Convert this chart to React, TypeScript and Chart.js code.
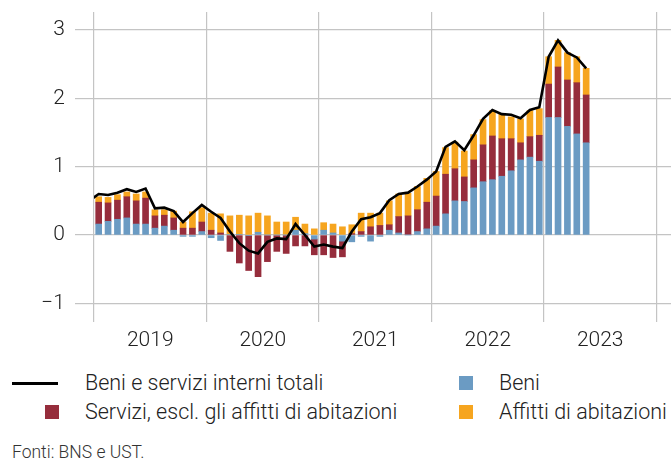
import React, { useEffect, useRef } from 'react';
import { Chart, registerables } from 'chart.js';

Chart.register(...registerables);

// Monthly data, Jan 2019 .. May 2023 (percentage points)
const yearLabels = ['2019', '2020', '2021', '2022', '2023'];
const firstYear = 2019;

const beni = [
  0.16, 0.20, 0.23, 0.25, 0.16, 0.16, 0.10, 0.13, 0.07, -0.02, -0.02, 0.05,
  -0.04, -0.08, 0.01, 0.01, -0.01, 0.04, 0.00, 0.00, 0.00, 0.07, 0.02, -0.06,
  0.07, 0.03, -0.09, -0.10, -0.02, -0.09, -0.02, 0.07, 0.03, 0.00, 0.05, 0.09,
  0.13, 0.31, 0.50, 0.49, 0.69, 0.78, 0.81, 0.86, 0.94, 1.10, 1.14, 1.08,
  1.72, 1.72, 1.59, 1.48, 1.35,
];

const servizi = [
  0.32, 0.27, 0.28, 0.31, 0.34, 0.38, 0.18, 0.16, 0.18, 0.10, 0.10, 0.14,
  0.07, 0.03, -0.24, -0.41, -0.51, -0.61, -0.39, -0.24, -0.27, -0.16, -0.16, -0.23,
  -0.29, -0.33, -0.23, 0.02, 0.05, 0.12, 0.14, 0.08, 0.24, 0.28, 0.32, 0.39,
  0.44, 0.58, 0.47, 0.36, 0.41, 0.54, 0.64, 0.55, 0.47, 0.25, 0.30, 0.38,
  0.49, 0.74, 0.68, 0.75, 0.70,
];

const affitti = [
  0.08, 0.08, 0.08, 0.07, 0.10, 0.09, 0.09, 0.08, 0.10, 0.09, 0.24, 0.21,
  0.25, 0.28, 0.27, 0.28, 0.28, 0.28, 0.28, 0.19, 0.19, 0.19, 0.14, 0.09,
  0.11, 0.13, 0.12, 0.13, 0.27, 0.20, 0.18, 0.35, 0.33, 0.33, 0.34, 0.35,
  0.36, 0.39, 0.39, 0.38, 0.37, 0.37, 0.37, 0.36, 0.32, 0.35, 0.38, 0.39,
  0.40, 0.39, 0.40, 0.38, 0.39,
];

// Total line starts one month earlier (Dec 2018)
const totale = [
  0.50,
  0.60, 0.585, 0.62, 0.67, 0.63, 0.68, 0.39, 0.40, 0.35, 0.19, 0.32, 0.44,
  0.34, 0.25, 0.05, -0.12, -0.23, -0.27, -0.10, -0.05, -0.06, 0.16, 0.00, -0.17,
  -0.14, -0.17, -0.19, 0.05, 0.23, 0.26, 0.32, 0.51, 0.60, 0.62, 0.71, 0.81,
  0.93, 1.29, 1.37, 1.24, 1.46, 1.70, 1.83, 1.77, 1.76, 1.71, 1.83, 1.87,
  2.61, 2.85, 2.67, 2.60, 2.44,
];
const totaleOffset = -1;

const yTicks = [-1, 0, 1, 2, 3];
const yMin = -1.274;
const yMax = 3.265;
const xMaxMonths = 61.55;

const COLORS = {
  beni: '#6b9bc3',
  servizi: '#962d3c',
  affitti: '#f6a51f',
  line: '#000000',
  grid: '#c4c4c4',
  text: '#222222',
};

const FONT = 'Roboto, "Liberation Sans", Arial, sans-serif';

export default function App() {
  const ref = useRef<HTMLCanvasElement | null>(null);

  useEffect(() => {
    if (!ref.current) return;
    const toPts = (arr: number[], off: number) => arr.map((v, i) => ({ x: i + off + 0.5, y: v }));
    const xTickValues: number[] = [];
    yearLabels.forEach((_, i) => {
      xTickValues.push(i * 12, i * 12 + 6);
    });
    xTickValues.push(yearLabels.length * 12);

    const chart = new Chart(ref.current, {
      type: 'bar',
      data: {
        datasets: [
          {
            type: 'line',
            label: 'Beni e servizi interni totali',
            data: toPts(totale, totaleOffset),
            borderColor: COLORS.line,
            borderWidth: 2.6,
            pointRadius: 0,
            tension: 0,
            stack: 'totale',
            order: 0,
          } as any,
          {
            label: 'Beni',
            data: toPts(beni, 0),
            backgroundColor: COLORS.beni,
            barThickness: 6,
            order: 1,
          },
          {
            label: 'Servizi, escl. gli affitti di abitazioni',
            data: toPts(servizi, 0),
            backgroundColor: COLORS.servizi,
            barThickness: 6,
            order: 1,
          },
          {
            label: 'Affitti di abitazioni',
            data: toPts(affitti, 0),
            backgroundColor: COLORS.affitti,
            barThickness: 6,
            order: 1,
          },
        ],
      },
      options: {
        animation: false,
        responsive: true,
        maintainAspectRatio: false,
        layout: { padding: { top: 12, right: 0, left: 0, bottom: 0 } },
        plugins: {
          legend: { display: false },
          tooltip: { enabled: false },
        },
        scales: {
          x: {
            type: 'linear',
            min: 0,
            max: xMaxMonths,
            stacked: true,
            offset: false,
            afterBuildTicks: (axis: any) => {
              axis.ticks = xTickValues.map((v) => ({ value: v }));
            },
            afterFit: (axis: any) => {
              axis.height = 38;
              axis.paddingLeft = 0;
              axis.paddingRight = 0;
            },
            grid: {
              drawTicks: false,
              offset: false,
              lineWidth: 1.2,
              color: (ctx: any) =>
                ctx.tick && ctx.tick.value % 12 === 0 ? COLORS.grid : 'rgba(0,0,0,0)',
            },
            border: { display: false },
            ticks: {
              autoSkip: false,
              maxRotation: 0,
              padding: 6,
              color: COLORS.text,
              font: { family: FONT, size: 21, weight: '300' as any },
              callback: (value: any) => {
                const v = Number(value);
                if (v % 12 === 6) return String(firstYear + (v - 6) / 12);
                return '';
              },
            },
          },
          y: {
            min: yMin,
            max: yMax,
            stacked: true,
            afterBuildTicks: (axis: any) => {
              axis.ticks = yTicks.map((v) => ({ value: v }));
            },
            afterFit: (axis: any) => {
              axis.width = 94;
              axis.paddingTop = 0;
              axis.paddingBottom = 0;
            },
            grid: {
              color: COLORS.grid,
              lineWidth: 1.2,
              tickLength: 19,
            },
            border: { display: false },
            ticks: {
              padding: 10,
              color: COLORS.text,
              font: { family: FONT, size: 21, weight: '300' as any },
              callback: (value: any) => {
                const v = Number(value);
                return v < 0 ? '\u2212' + Math.abs(v) : String(v);
              },
            },
          },
        },
      },
    });
    return () => chart.destroy();
  }, []);

  const textStyle: React.CSSProperties = {
    position: 'absolute',
    fontFamily: FONT,
    fontWeight: 300,
    fontSize: 21.5,
    lineHeight: '24px',
    color: COLORS.text,
    whiteSpace: 'nowrap',
  };

  return (
    <div style={{ position: 'absolute', left: 0, top: 0, width: 671, height: 459, background: '#fff' }}>
      <div style={{ position: 'absolute', left: 0, top: 0, width: 671, height: 360 }}>
        <canvas ref={ref} />
      </div>
      <div style={{ position: 'absolute', left: 12, top: 382, width: 46, height: 2.6, background: COLORS.line }} />
      <div style={{ ...textStyle, left: 85, top: 371 }}>Beni e servizi interni totali</div>
      <div style={{ position: 'absolute', left: 459, top: 376, width: 14, height: 14, background: COLORS.beni }} />
      <div style={{ ...textStyle, left: 499, top: 371 }}>Beni</div>
      <div style={{ position: 'absolute', left: 45, top: 405, width: 14, height: 14, background: COLORS.servizi }} />
      <div style={{ ...textStyle, left: 85, top: 400 }}>Servizi, escl. gli affitti di abitazioni</div>
      <div style={{ position: 'absolute', left: 459, top: 405, width: 14, height: 14, background: COLORS.affitti }} />
      <div style={{ ...textStyle, left: 499, top: 400 }}>Affitti di abitazioni</div>
      <div style={{ ...textStyle, left: 12, top: 442, fontSize: 17.5, lineHeight: '20px', color: '#333' }}>
        Fonti: BNS e UST.
      </div>
    </div>
  );
}
